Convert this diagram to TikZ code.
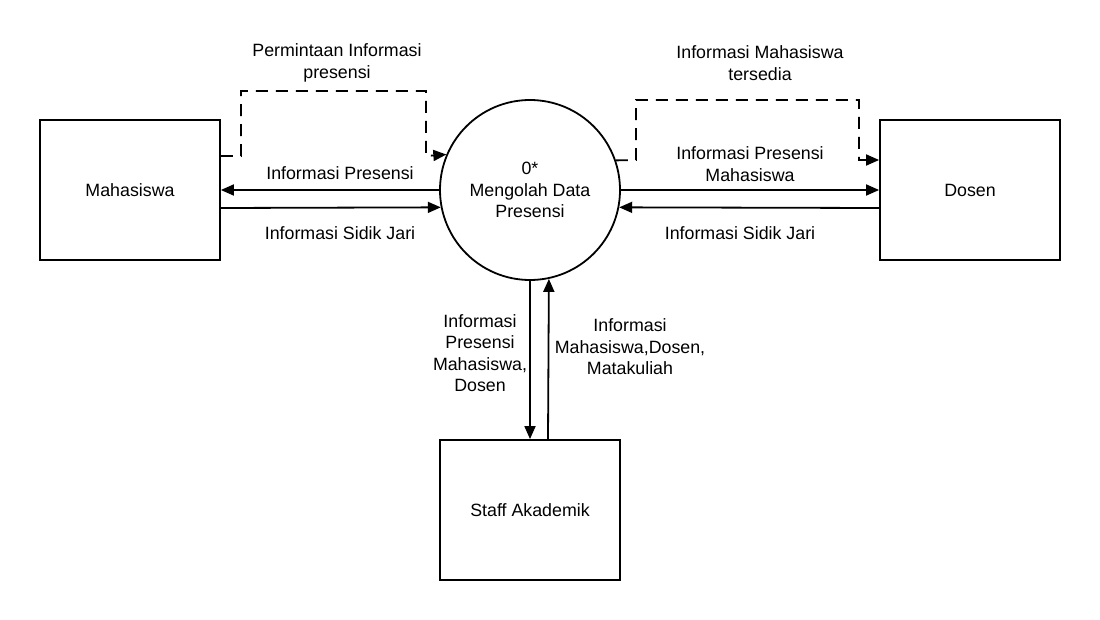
\documentclass[tikz,border=0pt]{standalone}
\usepackage{fontspec}
\setmainfont{Liberation Sans}
\usetikzlibrary{arrows.meta,calc}
\begin{document}
\begin{tikzpicture}[x=1pt,y=-1pt,
  every node/.style={font=\fontsize{17.8}{21.5}\selectfont},
  entity/.style={draw,line width=1.8pt,minimum width=180pt,minimum height=140pt,inner sep=0pt},
  proc/.style={draw,circle,line width=1.8pt,minimum size=180pt,inner sep=0pt,align=center},
  flow/.style={line width=1.8pt,-{Triangle[length=13pt,width=11pt]}},
  dflow/.style={flow,dash pattern=on 12pt off 8pt},
  lbl/.style={align=center,inner sep=0pt}]
\useasboundingbox (0,0) rectangle (1100,620);
\node[entity] (mah) at (130,190) {Mahasiswa};
\node[entity] (dos) at (970,190) {Dosen};
\node[entity] (staff) at (530,510) {Staff Akademik};
\node[proc] (proc) at (530,190) {0*\\Mengolah Data\\Presensi};

% left flows
\draw[flow] (proc.west) -- (mah.east);
\draw[flow] ($(mah.east)+(0,18)$) -- (proc.191.5);
\coordinate (ld1) at ($(mah.east)+(0,-34)$);
\draw[dflow] (ld1) -- (241,156) -- (241,91) -- (426,91) -- (426,156) -- (proc.157.8);

% right flows
\draw[flow] (proc.east) -- (dos.west);
\draw[flow] ($(dos.west)+(0,18)$) -- (proc.-11.5);
\coordinate (rd1) at ($(dos.west)+(0,-30)$);
\draw[dflow] (proc.19.5) -- (636,160) -- (636,100) -- (859,100) -- (859,160) -- (rd1);

% vertical flows
\draw[flow] (proc.south) -- (staff.north);
\draw[flow] ($(staff.north)+(18,0)$) -- (proc.-78.5);

% labels
\node[lbl] (l1) at (337,63) {Permintaan Informasi\\presensi};
\node[lbl] (l2) at (760,63) {Informasi Mahasiswa\\tersedia};
\node[lbl] (l3) at (340,173) {Informasi Presensi};
\node[lbl] (l4) at (340,233) {Informasi Sidik Jari};
\node[lbl] (l5) at (750,164) {Informasi Presensi\\Mahasiswa};
\node[lbl] (l6) at (740,233) {Informasi Sidik Jari};
\node[lbl] (l7) at (480,353) {Informasi\\Presensi\\Mahasiswa,\\Dosen};
\node[lbl] (l8) at (630,347) {Informasi\\Mahasiswa,Dosen,\\Matakuliah};
\end{tikzpicture}
\end{document}
